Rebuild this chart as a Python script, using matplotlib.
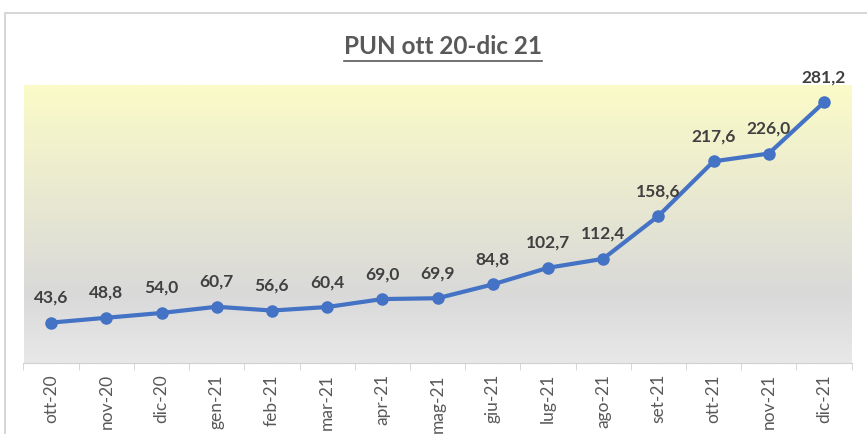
import numpy as np
import matplotlib.pyplot as plt
from matplotlib.patches import Rectangle
from matplotlib.lines import Line2D

mesi = ["ott-20", "nov-20", "dic-20", "gen-21", "feb-21", "mar-21", "apr-21", "mag-21",
        "giu-21", "lug-21", "ago-21", "set-21", "ott-21", "nov-21", "dic-21"]
pun = [43.6, 48.8, 54.0, 60.7, 56.6, 60.4, 69.0, 69.9, 84.8, 102.7, 112.4, 158.6, 217.6, 226.0, 281.2]

plt.rcParams['font.family'] = ['Lato', 'DejaVu Sans']

fig = plt.figure(figsize=(8.67, 4.34), dpi=100)
fig.patches.append(Rectangle((5 / 867, -0.01), 1.0, 1 - 13 / 434 + 0.01, transform=fig.transFigure,
                             facecolor='none', edgecolor='#D0D0D0', linewidth=1.2, zorder=-1))

ax = fig.add_axes([23.5 / 867, 71 / 434, 828 / 867, 278 / 434])
x = np.arange(len(mesi))
ax.set_xlim(-0.5, len(mesi) - 0.5)
ax.set_ylim(0, 300)

# gradient background: yellow on top, gray in the middle, lighter at bottom
top = np.array([251, 251, 200]) / 255
mid = np.array([217, 217, 217]) / 255
bot = np.array([232, 232, 232]) / 255
n = 256
t = np.linspace(0, 1, n)[:, None]
grad = np.where(t < 0.75, top + (mid - top) * (t / 0.75), mid + (bot - mid) * ((t - 0.75) / 0.25))
ax.imshow(grad[:, None, :], extent=[-0.5, len(mesi) - 0.5, 0, 300], aspect='auto', zorder=0)

ax.plot(x, pun, color='#4472C4', linewidth=3, marker='o', markersize=8, zorder=3)
for xi, v in zip(x, pun):
    ax.annotate(f"{v:.1f}".replace('.', ','), (xi, v), xytext=(0, 18), textcoords='offset points',
                ha='center', va='center', fontsize=12.5, fontweight='bold', color='#404040')

for s in ['left', 'right', 'top']:
    ax.spines[s].set_visible(False)
ax.spines['bottom'].set_color('#D0D0D0')
ax.set_yticks([])
ax.set_xticks(x)
ax.set_xticklabels(mesi, rotation=90, fontsize=12.5, color='#595959')
ax.tick_params(axis='x', which='major', length=0, pad=8)
ax.set_xticks(np.arange(-0.5, len(mesi)), minor=True)
ax.tick_params(axis='x', which='minor', length=5, color='#D0D0D0')

title = fig.text(443 / 867, 1 - 47 / 434, "PUN ott 20-dic 21", ha='center', va='center',
                 fontsize=17.5, fontweight='bold', color='#595959')
fig.canvas.draw()
bb = title.get_window_extent()
yline = (bb.y0 - 2) / fig.bbox.height
fig.lines.append(Line2D([bb.x0 / fig.bbox.width, bb.x1 / fig.bbox.width], [yline, yline],
                        transform=fig.transFigure, color='#595959', linewidth=1.2))

fig.savefig("out.png", dpi=100)
